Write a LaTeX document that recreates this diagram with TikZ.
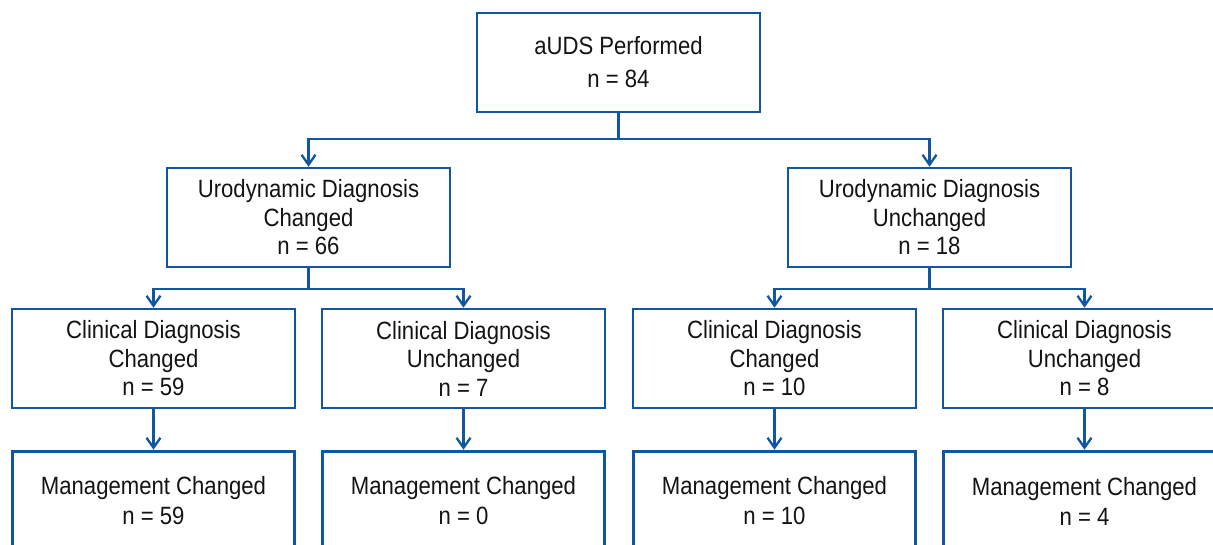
\documentclass[tikz,border=0pt]{standalone}
\usepackage{fontspec}
\setmainfont{Liberation Sans}[FakeStretch=0.885]
\usetikzlibrary{arrows.meta}
\definecolor{flowblue}{RGB}{16,86,160}
\definecolor{txt}{RGB}{20,20,20}
\begin{document}
\begin{tikzpicture}[x=1pt,y=-1pt,
  box/.style={draw=flowblue,line width=2.5pt,minimum width=283pt,minimum height=99pt,inner sep=0pt,align=center,text=txt,font=\fontsize{25}{28.5}\selectfont},
  topbox/.style={box,font=\fontsize{25}{33}\selectfont},
  mgmt/.style={box,line width=3.5pt,minimum width=282pt,minimum height=99pt,font=\fontsize{25}{30}\selectfont},
  conn/.style={draw=flowblue,line width=2.3pt,-{Straight Barb[length=10pt,width=14pt,line width=2.3pt]}},
  plain/.style={draw=flowblue,line width=2.3pt}]
\useasboundingbox (0,0) rectangle (1213,544);
\clip (0,0) rectangle (1213,544);
\node[topbox] (top) at (618.5,62.5) {aUDS Performed\\n = 84};
\node[box] (uc) at (308.5,217.5) {Urodynamic Diagnosis\\Changed\\n = 66};
\node[box] (uu) at (929.5,217.5) {Urodynamic Diagnosis\\Unchanged\\n = 18};
\node[box] (c1) at (153.5,358.5) {Clinical Diagnosis\\Changed\\n = 59};
\node[box] (c2) at (463.5,358.5) {Clinical Diagnosis\\Unchanged\\n = 7};
\node[box] (c3) at (774.5,358.5) {Clinical Diagnosis\\Changed\\n = 10};
\node[box] (c4) at (1084.5,358.5) {Clinical Diagnosis\\Unchanged\\n = 8};
\node[mgmt] (m1) at (153.5,501) {Management Changed\\n = 59};
\node[mgmt] (m2) at (463.5,501) {Management Changed\\n = 0};
\node[mgmt] (m3) at (774.5,501) {Management Changed\\n = 10};
\node[mgmt] (m4) at (1084.5,501) {Management Changed\\n = 4};
\coordinate (j0) at (618.5,139);
\coordinate (j1) at (308.5,289);
\coordinate (j2) at (929.5,289);
\draw[plain] (top.south) -- (j0);
\draw[conn] (j0) -| (uc.north);
\draw[conn] (j0) -| (uu.north);
\draw[plain] (uc.south) -- (j1);
\draw[conn] (j1) -| (c1.north);
\draw[conn] (j1) -| (c2.north);
\draw[plain] (uu.south) -- (j2);
\draw[conn] (j2) -| (c3.north);
\draw[conn] (j2) -| (c4.north);
\draw[conn] (c1.south) -- (m1.north);
\draw[conn] (c2.south) -- (m2.north);
\draw[conn] (c3.south) -- (m3.north);
\draw[conn] (c4.south) -- (m4.north);
\end{tikzpicture}
\end{document}
